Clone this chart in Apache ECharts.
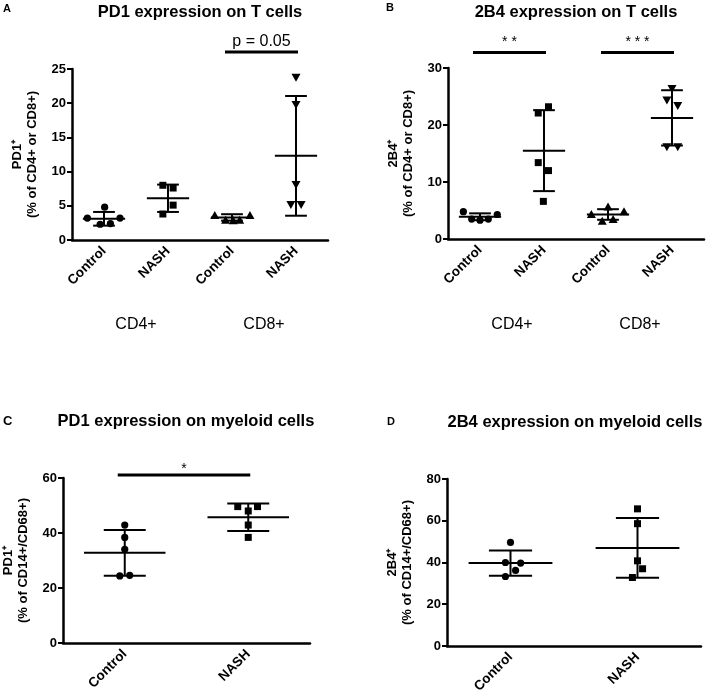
<!DOCTYPE html>
<html><head><meta charset="utf-8">
<script src="https://cdn.jsdelivr.net/npm/echarts@6/dist/echarts.min.js"></script>
<style>html,body{margin:0;padding:0;background:#fff}#c{width:708px;height:696px}</style>
</head><body><div id="c"></div>
<script>
const FONT = '"Liberation Sans", Arial, Helvetica, sans-serif';

// ---------- Panel A: PD1 expression on T cells ----------
const catsA = ['Control', 'NASH', 'Control', 'NASH'];
const aCd4Ctrl = [3.2, 2.3, 2.4, 3.2, 4.8];
const aCd4Nash = [8.0, 7.6, 5.1, 3.8];
const aCd8Ctrl = [3.6, 2.9, 2.8, 2.9, 3.6];
const aCd8Nash = [23.8, 19.8, 8.1, 5.2, 5.2];
const aJit = [[-0.26, -0.06, 0.1, 0.25, 0.01], [-0.08, 0.08, 0.08, -0.08], [-0.27, -0.1, 0.02, 0.12, 0.28], [0, 0, 0, -0.08, 0.08]];
const aMean = [3.1, 6.1, 3.3, 12.3];
const aSd = [1.0, 2.0, 0.47, 8.75];
const aTicks = { max: 25, interval: 5 };

// ---------- Panel B: 2B4 expression on T cells ----------
const catsB = ['Control', 'NASH', 'Control', 'NASH'];
const bCd4Ctrl = [4.8, 3.5, 3.3, 3.5, 4.3];
const bCd4Nash = [22.1, 23.2, 13.4, 12.0, 6.6];
const bCd8Ctrl = [4.3, 3.1, 5.6, 3.4, 4.8];
const bCd8Nash = [26.4, 24.4, 23.4, 16.2, 16.2];
const bJit = [[-0.26, -0.13, 0, 0.13, 0.27], [-0.09, 0.07, -0.09, 0.07, -0.01], [-0.26, -0.09, 0, 0.08, 0.25], [0, -0.08, 0.09, -0.08, 0.09]];
const bMean = [3.9, 15.5, 4.3, 21.25];
const bSd = [0.6, 7.1, 0.93, 4.85];
const bTicks = { max: 30, interval: 10 };

// ---------- Panel C: PD1 expression on myeloid cells ----------
const catsC = ['Control', 'NASH'];
const cCtrl = [42.9, 38.4, 34.1, 24.4, 24.6];
const cNash = [49.6, 49.6, 48.0, 42.9, 38.4];
const cJit = [[0, 0, 0, -0.04, 0.04], [-0.085, 0.075, 0, 0, 0]];
const cMean = [32.8, 45.7];
const cSd = [8.3, 5.0];
const cTicks = { max: 60, interval: 20 };

// ---------- Panel D: 2B4 expression on myeloid cells ----------
const catsD = ['Control', 'NASH'];
const dCtrl = [49.6, 40.0, 39.7, 36.2, 33.3];
const dNash = [65.7, 58.6, 40.8, 37.0, 32.8];
const dJit = [[0, -0.04, 0.08, 0.04, -0.04], [0, 0, 0, 0.04, -0.04]];
const dMean = [39.7, 47.0];
const dSd = [6.1, 14.3];
const dTicks = { max: 80, interval: 20 };

// significance annotations: [fromCat, toCat, yValue, text]
const sigA = [[2, 3, 27.5, 'p = 0.05']];
const sigB = [[0, 1, 32.7, '* *'], [2, 3, 32.7, '* * *']];
const sigC = [[0, 1, 61.1, '*']];

const panelTitles = ['PD1 expression on T cells', '2B4 expression on T cells', 'PD1 expression on myeloid cells', '2B4 expression on myeloid cells'];
const panelLetters = ['A', 'B', 'C', 'D'];
const yNames = ['PD1\u207A\n(% of CD4+ or CD8+)', '2B4\u207A\n(% of CD4+ or CD8+)', 'PD1\u207A\n(% of CD14+/CD68+)', '2B4\u207A\n(% of CD14+/CD68+)'];
const groupLabels = ['CD4+', 'CD8+'];

const chart = echarts.init(document.getElementById('c'), null, { renderer: 'canvas' });

const grids = [
  { left: 72, top: 69, width: 256, height: 171 },
  { left: 448, top: 68, width: 256, height: 171 },
  { left: 62, top: 478, width: 248, height: 165 },
  { left: 447, top: 479, width: 254, height: 169 }
];
const catSets = [catsA, catsB, catsC, catsD];
const tickSets = [aTicks, bTicks, cTicks, dTicks];

const xAxes = catSets.map((cats, i) => ({
  type: 'category', gridIndex: i, data: cats, boundaryGap: true,
  axisLine: { lineStyle: { color: '#000', width: 2.5 } },
  axisTick: { alignWithLabel: true, length: 6, lineStyle: { color: '#000', width: 2.5 } },
  axisLabel: { rotate: 45, margin: 9, color: '#000', fontFamily: FONT, fontWeight: 'bold', fontSize: 13.5 },
  splitLine: { show: false }
}));
const yAxes = tickSets.map((t, i) => ({
  type: 'value', gridIndex: i, min: 0, max: t.max, interval: t.interval,
  axisLine: { show: true, lineStyle: { color: '#000', width: 2.5 } },
  axisTick: { show: true, length: 5, lineStyle: { color: '#000', width: 2 } },
  axisLabel: { margin: 6, color: '#000', fontFamily: FONT, fontWeight: 'bold', fontSize: 13 },
  splitLine: { show: false },
  name: yNames[i], nameLocation: 'middle', nameRotate: 90, nameGap: 32,
  nameTextStyle: { color: '#000', fontFamily: FONT, fontWeight: 'bold', fontSize: 13, lineHeight: 15, align: 'center' }
}));

function markerShape(kind, x, y) {
  const st = { fill: '#000' };
  if (kind === 'circle') return { type: 'circle', shape: { cx: x, cy: y, r: 3.6 }, style: st };
  if (kind === 'square') return { type: 'rect', shape: { x: x - 3.5, y: y - 3.5, width: 7, height: 7 }, style: st };
  if (kind === 'up') return { type: 'polygon', shape: { points: [[x, y - 4.5], [x - 4.5, y + 3.5], [x + 4.5, y + 3.5]] }, style: st };
  return { type: 'polygon', shape: { points: [[x, y + 4.5], [x - 4.5, y - 3.5], [x + 4.5, y - 3.5]] }, style: st };
}

function pointsSeries(gi, cat, values, jit, kind) {
  return {
    type: 'custom', coordinateSystem: 'cartesian2d', xAxisIndex: gi, yAxisIndex: gi, z: 5,
    data: values.map((v, k) => [cat, v, jit[k]]),
    encode: { x: 0, y: 1 },
    renderItem: function (params, api) {
      const c = api.coord([api.value(0), api.value(1)]);
      const bw = api.size([1, 0])[0];
      return markerShape(kind, c[0] + api.value(2) * bw, c[1]);
    }
  };
}

function errSeries(gi, means, sds) {
  return {
    type: 'custom', coordinateSystem: 'cartesian2d', xAxisIndex: gi, yAxisIndex: gi, z: 4,
    data: means.map((m, k) => [k, m, sds[k]]),
    encode: { x: 0, y: 1 },
    renderItem: function (params, api) {
      const cat = api.value(0), m = api.value(1), s = api.value(2);
      const mid = api.coord([cat, m]);
      const top = api.coord([cat, m + s]);
      const bot = api.coord([cat, Math.max(0, m - s)]);
      const bw = api.size([1, 0])[0];
      const hm = bw * 0.33, hc = bw * 0.17;
      const ls = { stroke: '#000', lineWidth: 2 };
      return {
        type: 'group', children: [
          { type: 'line', shape: { x1: mid[0], y1: top[1], x2: mid[0], y2: bot[1] }, style: ls },
          { type: 'line', shape: { x1: mid[0] - hm, y1: mid[1], x2: mid[0] + hm, y2: mid[1] }, style: ls },
          { type: 'line', shape: { x1: mid[0] - hc, y1: top[1], x2: mid[0] + hc, y2: top[1] }, style: ls },
          { type: 'line', shape: { x1: mid[0] - hc, y1: bot[1], x2: mid[0] + hc, y2: bot[1] }, style: ls }
        ]
      };
    }
  };
}

function sigSeries(gi, sigs, fontSize, textGap) {
  return {
    type: 'custom', coordinateSystem: 'cartesian2d', xAxisIndex: gi, yAxisIndex: gi, clip: false, z: 6,
    data: sigs.map(s => [s[0], s[2], s[1]]),
    encode: { x: 0, y: 1 },
    renderItem: function (params, api) {
      const p1 = api.coord([api.value(0), api.value(1)]);
      const p2 = api.coord([api.value(2), api.value(1)]);
      const txt = sigs[params.dataIndex][3];
      const x1 = p1[0] - 7, x2 = p2[0] + 2;
      return {
        type: 'group', children: [
          { type: 'line', shape: { x1: x1, y1: p1[1], x2: x2, y2: p1[1] }, style: { stroke: '#000', lineWidth: 3 } },
          { type: 'text', x: (x1 + x2) / 2, y: p1[1] - textGap, style: { text: txt, fill: '#000', font: 'normal ' + fontSize + 'px ' + FONT, textAlign: 'center', textVerticalAlign: 'middle' } }
        ]
      };
    }
  };
}

const series = [
  errSeries(0, aMean, aSd),
  pointsSeries(0, 0, aCd4Ctrl, aJit[0], 'circle'),
  pointsSeries(0, 1, aCd4Nash, aJit[1], 'square'),
  pointsSeries(0, 2, aCd8Ctrl, aJit[2], 'up'),
  pointsSeries(0, 3, aCd8Nash, aJit[3], 'down'),
  sigSeries(0, sigA, 16, 10),
  errSeries(1, bMean, bSd),
  pointsSeries(1, 0, bCd4Ctrl, bJit[0], 'circle'),
  pointsSeries(1, 1, bCd4Nash, bJit[1], 'square'),
  pointsSeries(1, 2, bCd8Ctrl, bJit[2], 'up'),
  pointsSeries(1, 3, bCd8Nash, bJit[3], 'down'),
  sigSeries(1, sigB, 14, 10),
  errSeries(2, cMean, cSd),
  pointsSeries(2, 0, cCtrl, cJit[0], 'circle'),
  pointsSeries(2, 1, cNash, cJit[1], 'square'),
  sigSeries(2, sigC, 14, 6),
  errSeries(3, dMean, dSd),
  pointsSeries(3, 0, dCtrl, dJit[0], 'circle'),
  pointsSeries(3, 1, dNash, dJit[1], 'square')
];

const titlePos = [[200, 12], [576, 12], [186, 421], [575, 422]];
const letterPos = [[3, 9, 11], [386, 8, 11], [3, 421, 13], [387, 422, 11]];
const graphic = [];
panelTitles.forEach((t, i) => {
  graphic.push({ type: 'text', x: titlePos[i][0], y: titlePos[i][1], style: { text: t, fill: '#000', font: 'bold 16.5px ' + FONT, textAlign: 'center', textVerticalAlign: 'middle' } });
  graphic.push({ type: 'text', x: letterPos[i][0], y: letterPos[i][1], style: { text: panelLetters[i], fill: '#000', font: 'bold ' + letterPos[i][2] + 'px ' + FONT, textAlign: 'left', textVerticalAlign: 'middle' } });
});

chart.setOption({
  animation: false,
  backgroundColor: '#fff',
  grid: grids,
  xAxis: xAxes,
  yAxis: yAxes,
  series: series,
  graphic: graphic
});

// group labels under the T-cell panels, centred between the two categories of each group
const extra = [];
[0, 1].forEach(gi => {
  [[0, 1], [2, 3]].forEach((pair, k) => {
    const pa = chart.convertToPixel({ gridIndex: gi }, [pair[0], 0]);
    const pb = chart.convertToPixel({ gridIndex: gi }, [pair[1], 0]);
    extra.push({ type: 'text', x: (pa[0] + pb[0]) / 2, y: 325, style: { text: groupLabels[k], fill: '#000', font: 'normal 16px ' + FONT, textAlign: 'center', textVerticalAlign: 'middle' } });
  });
});
chart.setOption({ graphic: graphic.concat(extra) });
</script>
</body></html>
